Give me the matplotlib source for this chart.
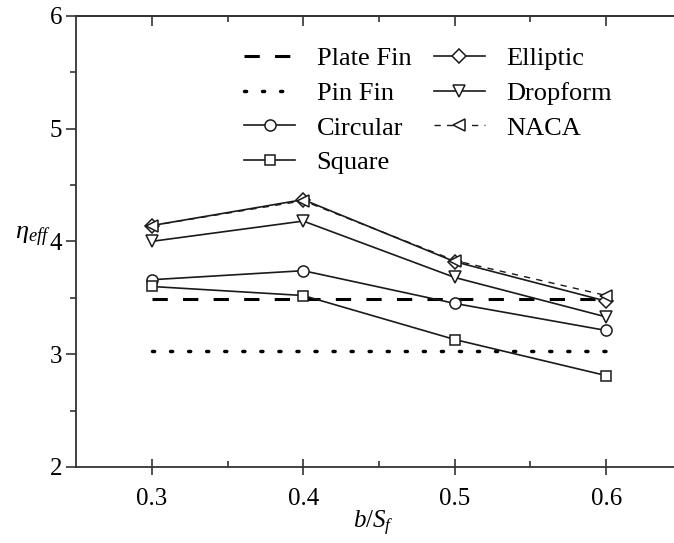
import numpy as np
import matplotlib.pyplot as plt

plt.rcParams['font.family'] = ['Liberation Serif', 'DejaVu Serif']
plt.rcParams['mathtext.fontset'] = 'custom'
plt.rcParams['mathtext.rm'] = 'Liberation Serif'
plt.rcParams['mathtext.it'] = 'Liberation Serif:italic'

# data
b_sf = [0.3, 0.4, 0.5, 0.6]
plate_fin = [3.49, 3.49, 3.49, 3.49]
pin_fin = [3.03, 3.03, 3.03, 3.03]
circular = [3.66, 3.74, 3.45, 3.21]
square = [3.60, 3.52, 3.13, 2.81]
elliptic = [4.14, 4.37, 3.82, 3.47]
dropform = [4.00, 4.18, 3.68, 3.33]
naca = [4.14, 4.36, 3.83, 3.52]

fig = plt.figure(figsize=(6.74, 5.43), dpi=100)
ax = fig.add_axes([0.1128, 0.140, 0.899, 0.831])

c = '#1a1a1a'
mk = dict(markerfacecolor='white', markeredgecolor=c, markeredgewidth=1.1)

ax.plot(b_sf, plate_fin, color='black', lw=2.2, linestyle=(0, (5, 5)), label='Plate Fin')
ax.plot(b_sf, pin_fin, color='black', lw=2.5, linestyle=(0, (0.6, 4.6)),
        dash_capstyle='round', label='Pin Fin')
ax.plot(b_sf, circular, color=c, lw=1.2, marker='o', markersize=8, label='Circular', **mk)
ax.plot(b_sf, square, color=c, lw=1.2, marker='s', markersize=7.5, label='Square', **mk)
ax.plot(b_sf, elliptic, color=c, lw=1.2, marker='D', markersize=7, label='Elliptic', **mk)
ax.plot(b_sf, dropform, color=c, lw=1.2, marker='v', markersize=9, label='Dropform', **mk)
ax.plot(b_sf, naca, color=c, lw=1.0, linestyle=(0, (4.5, 4.5)), marker='<', markersize=9,
        label='NACA', **mk)

ax.set_xlim(0.25, 0.65)
ax.set_ylim(2, 6)
ax.set_xticks([0.3, 0.4, 0.5, 0.6])
ax.set_xticklabels(['0.3', '0.4', '0.5', '0.6'])
ax.set_xticks([0.35, 0.45, 0.55], minor=True)
ax.set_yticks([2, 3, 4, 5, 6])
ax.set_yticks([2.5, 3.5, 4.5, 5.5], minor=True)

for s in ax.spines.values():
    s.set_linewidth(1.3)
    s.set_color('#333333')

ax.tick_params(axis='y', which='major', direction='out', length=7, width=1.2, labelsize=18,
               colors='#333333', labelcolor='black', pad=3)
ax.tick_params(axis='y', which='minor', direction='out', length=4, width=1.2, colors='#333333')
ax.tick_params(axis='x', which='major', direction='inout', length=12, width=1.2, labelsize=18,
               colors='#333333', labelcolor='black', pad=9)
ax.tick_params(axis='x', which='minor', direction='in', length=4, width=1.2, top=True,
               colors='#333333')

# top major ticks point inward only
ax_top = ax.secondary_xaxis('top')
ax_top.set_xticks([0.3, 0.4, 0.5, 0.6])
ax_top.tick_params(direction='in', length=7, width=1.2, labeltop=False, colors='#333333')
ax_top.spines['top'].set_linewidth(1.3)
ax_top.spines['top'].set_color('#333333')

ax.set_xlabel(r'$b/S_f$', fontsize=18)
ax.xaxis.set_label_coords(0.49, -0.125)
ax.xaxis.label.set_va('center')
ax.set_ylabel(r'$\eta_{eff}$', fontsize=19, rotation=0, ha='center', va='center')
ax.yaxis.set_label_coords(-0.071, 0.51)

ax.legend(ncol=2, loc='upper left', bbox_to_anchor=(244 / 674, 1 - 47 / 543),
          bbox_transform=fig.transFigure, frameon=False, fontsize=19,
          handlelength=1.95, handletextpad=0.8, columnspacing=0.85,
          labelspacing=0.42, borderpad=0, borderaxespad=0)

fig.savefig('out.png', dpi=100)
